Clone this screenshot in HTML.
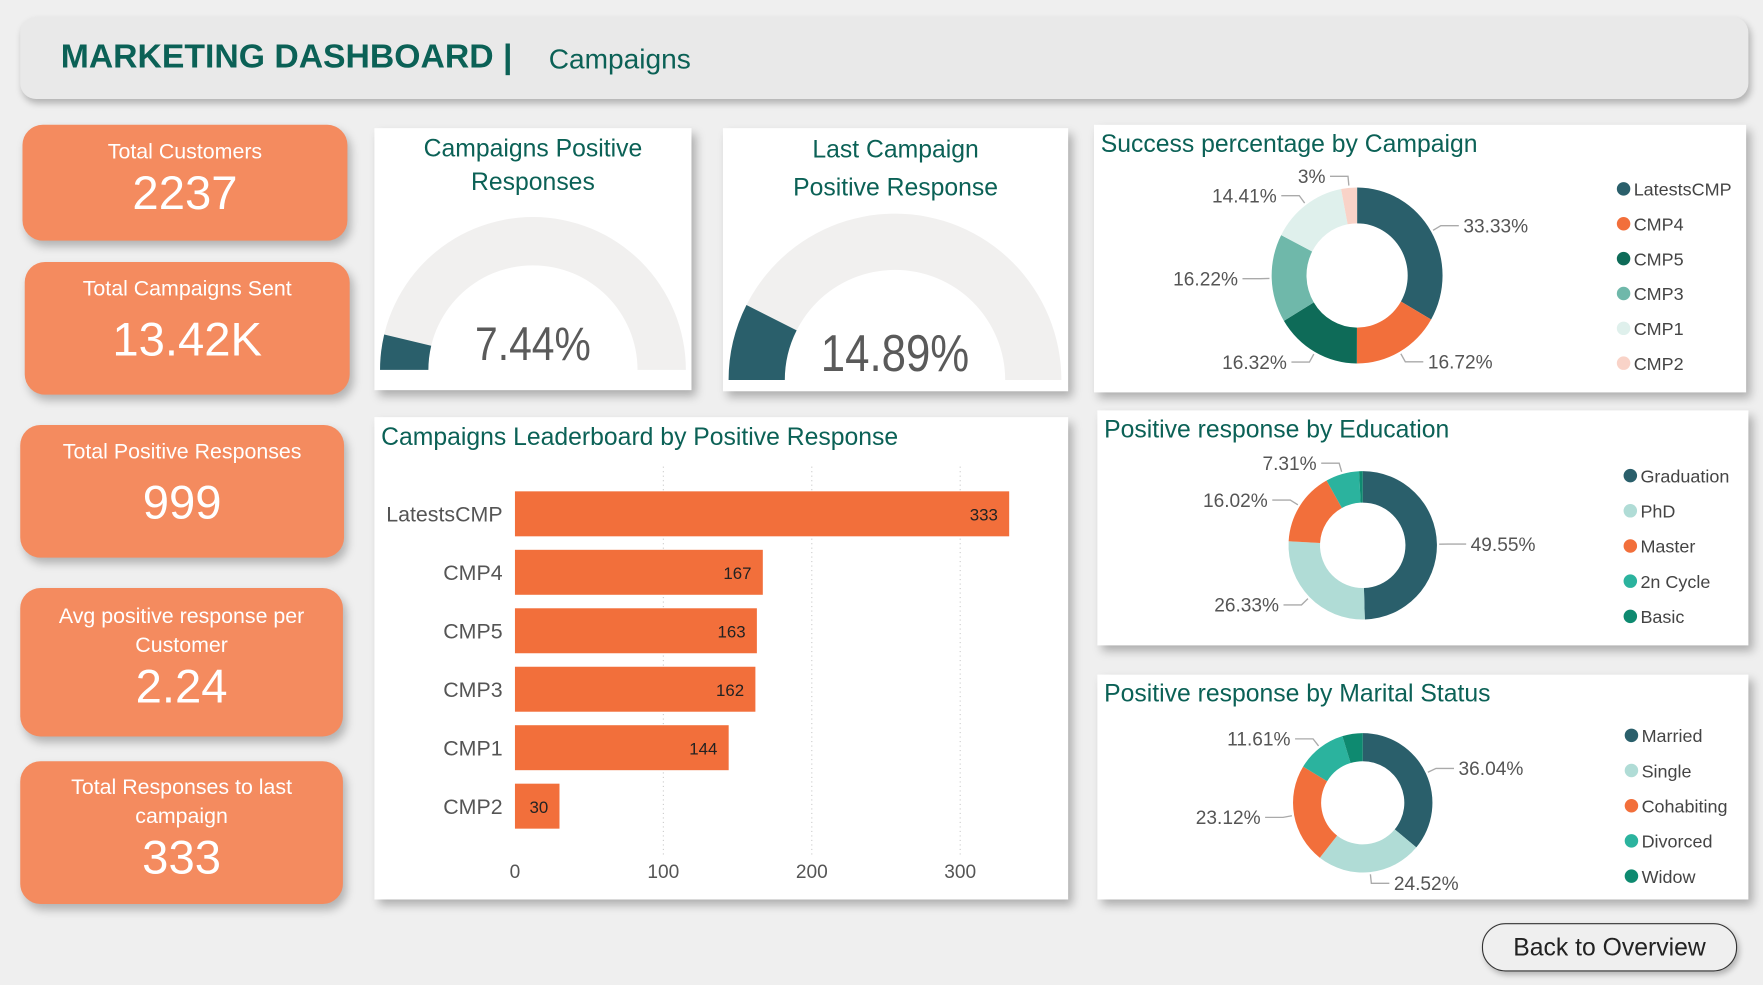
<!DOCTYPE html>
<html><head><meta charset="utf-8">
<style>
html,body{margin:0;padding:0;background:#efefef;overflow:hidden}
#wrap{position:absolute;left:0;top:0;width:1568px;height:876px;transform:scale(1.12436);transform-origin:0 0;font-family:"Liberation Sans",sans-serif}
.card{position:absolute;background:#fff;box-shadow:4px 5px 8px rgba(0,0,0,0.28)}
.kpi{position:absolute;background:#f48b5f;border-radius:18px;box-shadow:3px 5px 8px rgba(0,0,0,0.25);color:#fff;text-align:center}
.kpi .l{font-size:19px;line-height:26px}
.kpi .v{font-size:42px;line-height:46px}
.ttl{position:absolute;color:#0b6156;font-size:22px}
</style></head><body>
<div id="wrap">
<div style="position:absolute;left:18px;top:15px;width:1537px;height:73px;background:#e9e9e9;border-radius:14px;box-shadow:2px 4px 6px rgba(0,0,0,0.25)">
 <span style="position:absolute;left:36px;top:19px;font-size:30px;font-weight:bold;color:#0b6156">MARKETING DASHBOARD |</span>
 <span style="position:absolute;left:470px;top:24px;font-size:25px;color:#0b6156">Campaigns</span>
</div>

<div class="kpi" style="left:20px;top:111px;width:289px;height:103px"><div class="l" style="margin-top:12px">Total Customers</div><div class="v">2237</div></div>
<div class="kpi" style="left:22px;top:233px;width:289px;height:118px"><div class="l" style="margin-top:12px">Total Campaigns Sent</div><div class="v" style="margin-top:8px">13.42K</div></div>
<div class="kpi" style="left:18px;top:378px;width:288px;height:118px"><div class="l" style="margin-top:12px">Total Positive Responses</div><div class="v" style="margin-top:8px">999</div></div>
<div class="kpi" style="left:18px;top:523px;width:287px;height:132px"><div class="l" style="margin-top:13px">Avg positive response per<br>Customer</div><div class="v">2.24</div></div>
<div class="kpi" style="left:18px;top:677px;width:287px;height:127px"><div class="l" style="margin-top:11px">Total Responses to last<br>campaign</div><div class="v">333</div></div>

<div class="card" style="left:333px;top:114px;width:282px;height:233px">
 <div class="ttl" style="left:0;width:282px;text-align:center;top:3px;line-height:30px">Campaigns Positive<br>Responses</div>
</div>
<div class="card" style="left:643px;top:114px;width:307px;height:234px">
 <div class="ttl" style="left:0;width:307px;text-align:center;top:2px;line-height:34px">Last Campaign<br>Positive Response</div>
</div>
<div class="card" style="left:333px;top:371px;width:617px;height:429px">
 <div class="ttl" style="left:6px;top:5px">Campaigns Leaderboard by Positive Response</div>
</div>
<div class="card" style="left:973px;top:111px;width:580px;height:238px">
 <div class="ttl" style="left:6px;top:4px">Success percentage by Campaign</div>
</div>
<div class="card" style="left:976px;top:365px;width:579px;height:209px">
 <div class="ttl" style="left:6px;top:4px">Positive response by Education</div>
</div>
<div class="card" style="left:976px;top:600px;width:579px;height:200px">
 <div class="ttl" style="left:6px;top:4px">Positive response by Marital Status</div>
</div>
<div style="position:absolute;left:1318px;top:821px;width:225px;height:41px;border:1.5px solid #333;border-radius:21px;background:#efefef;box-shadow:2px 3px 5px rgba(0,0,0,0.25);text-align:center;line-height:41px;font-size:22px;color:#222">Back to Overview</div>

<svg id="svg" width="1568" height="876" style="position:absolute;left:0;top:0" font-family="Liberation Sans, sans-serif"></svg>
</div>
<script>
// Gauge data
const gaugeValues=[7.44,14.89];
const gaugeLabels=["7.44%","14.89%"];
// Bar data
const barCategories=["LatestsCMP","CMP4","CMP5","CMP3","CMP1","CMP2"];
const barValues=[333,167,163,162,144,30];
const barTicks=[0,100,200,300];
// Donut data
const campLabels=["LatestsCMP","CMP4","CMP5","CMP3","CMP1","CMP2"];
const campValues=[33.33,16.72,16.32,16.22,14.41,3];
const eduLabels=["Graduation","PhD","Master","2n Cycle","Basic"];
const eduValues=[49.55,26.33,16.02,7.31,0.79];
const marLabels=["Married","Single","Cohabiting","Divorced","Widow"];
const marValues=[36.04,24.52,23.12,11.61,4.71];

const NS="http://www.w3.org/2000/svg";
const svg=document.getElementById('svg');
function el(t,a,p){const e=document.createElementNS(NS,t);for(const k in a)e.setAttribute(k,a[k]);(p||svg).appendChild(e);return e;}

// Gauges
const gaugeGeo=[{cx:474,cy:329,ro:136,ri:93,ty:320,fs:42,tw:103},{cx:796,cy:338,ro:148,ri:98,ty:330,fs:46,tw:132}];
function arcPath(cx,cy,ro,ri,a0,a1,ry){ry=ry||1;
 const p=(r,a)=>[cx+r*Math.cos(a),cy+r*ry*Math.sin(a)];
 const large=Math.abs(a1-a0)>Math.PI?1:0;
 const [x0,y0]=p(ro,a0),[x1,y1]=p(ro,a1),[x2,y2]=p(ri,a1),[x3,y3]=p(ri,a0);
 return `M${x0},${y0}A${ro},${ro*ry} 0 ${large} 1 ${x1},${y1}L${x2},${y2}A${ri},${ri*ry} 0 ${large} 0 ${x3},${y3}Z`;}
gaugeValues.forEach((v,i)=>{const g=gaugeGeo[i];
 const bg=el('path',{d:arcPath(g.cx,g.cy,g.ro,g.ri,Math.PI,2*Math.PI),fill:'#f1f0ef'});
 
 
 const a1=Math.PI+Math.PI*v/100;
 const fg=el('path',{d:arcPath(g.cx,g.cy,g.ro,g.ri,Math.PI,a1),fill:'#2a5f6b'});
 
 
 const t=el('text',{x:g.cx,y:g.ty,'text-anchor':'middle','font-size':g.fs,fill:'#5a5a5a',textLength:g.tw,lengthAdjust:'spacingAndGlyphs'});t.textContent=gaugeLabels[i];
 
 
});

// Bars
const x0=458,pxPer=(854-458)/300,rowTop=457,rowStep=52,barH=40;
const xs=v=>x0+v*pxPer;
barTicks.forEach(t=>{
 if(t>0){const gl=el('line',{x1:xs(t),x2:xs(t),y1:415,y2:760,stroke:'#ccc','stroke-dasharray':'1,3'});
 
 }
 const tx=el('text',{x:xs(t),y:781,'text-anchor':'middle','font-size':17,fill:'#555'});tx.textContent=t;
 
 
});
barCategories.forEach((c,i)=>{const cy=rowTop+i*rowStep;
 const r=el('rect',{x:x0,y:cy-barH/2,width:xs(barValues[i])-x0,height:barH,fill:'#f26f3b'});
 
 
 const l=el('text',{x:447,y:cy+7,'text-anchor':'end','font-size':19,fill:'#555'});l.textContent=c;
 
 
 const v=el('text',{x:xs(barValues[i])-10,y:cy+6,'text-anchor':'end','font-size':15,fill:'#222'});v.textContent=barValues[i];
 
 
});

// Donuts
function donut(vals,labels,colors,g,name){
 const tot=vals.reduce((a,b)=>a+b,0);let a=-Math.PI/2;
 vals.forEach((v,i)=>{const a1=a+2*Math.PI*v/tot;
  const p=el('path',{d:arcPath(g.cx,g.cy,g.ro,g.ri,a,a1,g.ry),fill:colors[i]});
  
  
  const m=(a+a1)/2;
  if(v>=2 && !(name==='marital'&&v<5)){
   const px=g.cx+(g.ro+2)*Math.cos(m),py=g.cy+(g.ro+2)*g.ry*Math.sin(m);
   const qx=g.cx+(g.ro+10)*Math.cos(m),qy=g.cy+(g.ro+10)*g.ry*Math.sin(m);
   const right=Math.cos(m)>=0;const ex=qx+(right?16:-16);
   const ln=el('polyline',{points:`${px},${py} ${qx},${qy} ${ex},${qy}`,fill:'none',stroke:'#aaa','stroke-width':1.2});
   
   
   const t=el('text',{x:ex+(right?4:-4),y:qy+6,'text-anchor':right?'start':'end','font-size':17,fill:'#555'});
   t.textContent=(Math.round(v*100)/100)+'%';
   
   
  }
  const ly=g.ly+i*g.lstep;
  const c=el('circle',{cx:g.lx,cy:ly,r:6,fill:colors[i]});
  
  
  const lt=el('text',{x:g.lx+9,y:ly+6,'font-size':16,fill:'#444'});lt.textContent=labels[i];
  
  
  a=a1;});
}
donut(campValues,campLabels,['#2a5f6b','#f26f3b','#0e6b58','#6fb8aa','#dff0ec','#f9d3c8'],{cx:1207,cy:245,ro:76,ri:45,ry:1.03,lx:1444,ly:168,lstep:31},'success');
donut(eduValues,eduLabels,['#2a5f6b','#b0dcd6','#f26f3b','#2bb39e','#0e8a70'],{cx:1212,cy:485,ro:66,ri:38,ry:1.0,lx:1450,ly:423,lstep:31.3},'education');
donut(marValues,marLabels,['#2a5f6b','#b0dcd6','#f26f3b','#2bb39e','#0e8a70'],{cx:1212,cy:714,ro:62,ri:37,ry:1.0,lx:1451,ly:654,lstep:31.3},'marital');
</script>
</body></html>
